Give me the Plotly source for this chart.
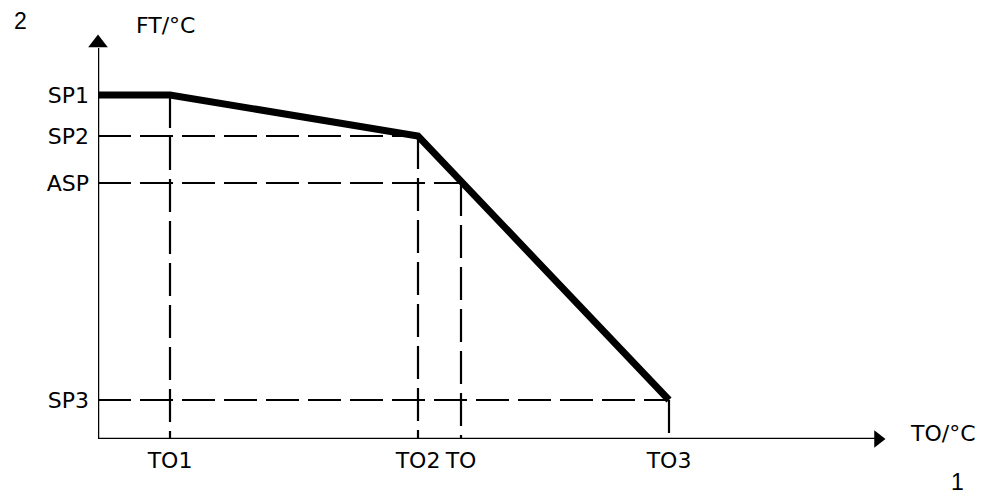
import plotly.graph_objects as go

# Data (axis units measured from origin)
x_labels = ["TO1", "TO2", "TO", "TO3"]
x_vals = [72, 320, 363, 571]
y_labels = ["SP1", "SP2", "ASP", "SP3"]
y_vals = [344, 303, 256, 39]

# Curve: SP1 flat until TO1, down to SP2 at TO2, then to SP3 at TO3
curve_x = [0, 72, 320, 571]
curve_y = [344, 344, 303, 39]

# Guide points (x, y) for dashed reference lines
guide_x = [72, 320, 363, 571]
guide_y = [344, 303, 256, 39]

X_MAX = 792
Y_MAX = 407

# page offset due to default body margin (8px)
OFF = 8
FW, FH = 990 - OFF, 496 - OFF
L, T, R, B = 98 - OFF, 32 - OFF, 100, FH - (439 - OFF)

fig = go.Figure()

dash = "33px,9px"
for gx, gy in zip(guide_x[1:], guide_y[1:]):
    fig.add_trace(go.Scatter(x=[0, gx], y=[gy, gy], mode="lines",
                             line=dict(color="black", width=2.2, dash=dash),
                             hoverinfo="skip", showlegend=False))
for gx, gy in zip(guide_x, guide_y):
    fig.add_trace(go.Scatter(x=[gx, gx], y=[gy, 0], mode="lines",
                             line=dict(color="black", width=2.2, dash=dash),
                             hoverinfo="skip", showlegend=False))

fig.add_trace(go.Scatter(x=curve_x, y=curve_y, mode="lines",
                         line=dict(color="black", width=7),
                         hoverinfo="skip", showlegend=False))

# axis lines
fig.add_trace(go.Scatter(x=[0, 0, X_MAX - 14], y=[Y_MAX - 16, 0, 0], mode="lines",
                         line=dict(color="black", width=2.5), cliponaxis=False,
                         hoverinfo="skip", showlegend=False))
# arrow heads
fig.add_trace(go.Scatter(x=[0], y=[Y_MAX - 11], mode="markers", cliponaxis=False,
                         marker=dict(symbol="triangle-up", size=17, color="black"),
                         hoverinfo="skip", showlegend=False))
fig.add_trace(go.Scatter(x=[X_MAX - 12], y=[0], mode="markers", cliponaxis=False,
                         marker=dict(symbol="triangle-right", size=15, color="black"),
                         hoverinfo="skip", showlegend=False))

font = dict(family="DejaVu Sans, Liberation Sans, sans-serif", size=22, color="black")
numfont = dict(family="Liberation Sans, Arial, sans-serif", size=23, color="black")

fig.update_layout(
    width=FW, height=FH,
    margin=dict(l=L, r=R, t=T, b=B),
    plot_bgcolor="white", paper_bgcolor="white",
    xaxis=dict(range=[0, X_MAX], tickvals=x_vals, ticktext=x_labels, showgrid=False,
               zeroline=False, showline=False, ticks="", tickfont=font,
               ticklabelstandoff=6, automargin=False),
    yaxis=dict(range=[0, Y_MAX], tickvals=y_vals, ticktext=y_labels, showgrid=False,
               zeroline=False, showline=False, ticks="", tickfont=font,
               ticklabelstandoff=8, automargin=False),
)

W, H = FW - L - R, FH - T - B
def px(x): return (x - OFF - L) / W
def py(y): return (FH - B - (y - OFF)) / H
for tx, ty, txt, f in [(20, 21, "2", numfont), (165, 25, "FT/°C", font),
                       (943, 433, "TO/°C", font), (957, 482, "1", numfont)]:
    fig.add_annotation(x=px(tx), y=py(ty), xref="paper", yref="paper", text=txt,
                       xanchor="center", yanchor="middle", showarrow=False, font=f,
                       height=22, borderpad=0)

fig.write_html("out.html")
